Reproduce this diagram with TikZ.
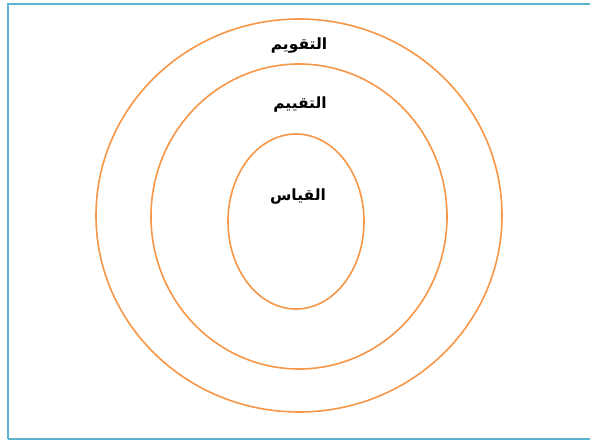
\documentclass[tikz,border=0pt]{standalone}
\usepackage{fontspec}
\usepackage{xcolor}
\usepackage{tikz}
\usetikzlibrary{shapes.geometric}
\TeXXeTstate=1
\newfontfamily\arabicfont[Script=Arabic]{DejaVu Sans}
\definecolor{Frame}{HTML}{5BB3D0}
\definecolor{Ring}{HTML}{F79646}

\begin{document}
\begin{tikzpicture}[x=1pt,y=-1pt,
  every node/.style={font=\arabicfont\bfseries\fontsize{15.5}{18}\selectfont,align=center},
  ring/.style={ellipse,draw=Ring,line width=1.6pt,inner sep=0pt,outer sep=0pt},
  lbl/.style={inner sep=1pt}
]
\useasboundingbox (0,0) rectangle (590,441);
\draw[Frame,line width=2.4pt] (8,439) -- (8,4) -- (596,4);
\draw[Frame,line width=2.4pt] (8,439) -- (596,439);
% three nested rings
\node[ring,minimum width=406pt,minimum height=393pt] (outer) at (299,215.5) {};
\node[ring,minimum width=296pt,minimum height=305pt] (middle) at (299,216.5) {};
\node[ring,minimum width=136pt,minimum height=175pt] (inner) at (296,221.5) {};
% labels
\node[lbl] (taqwim) at (299,46) {\beginR التقويم\endR};
\node[lbl] (taqyim) at (300,105) {\beginR التقييم\endR};
\node[lbl] (qiyas) at (298,197) {\beginR القياس\endR};
\end{tikzpicture}
\end{document}
